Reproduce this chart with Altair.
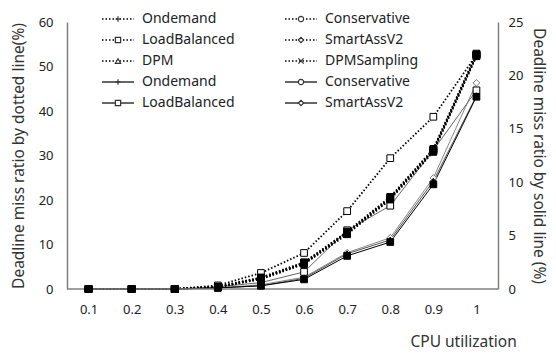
import altair as alt
import pandas as pd

# CPU utilization levels on the x axis
utils = ["0.1", "0.2", "0.3", "0.4", "0.5", "0.6", "0.7", "0.8", "0.9", "1"]

# Deadline miss ratio (%) drawn with dotted lines, left axis
ondemand_dot = [0, 0, 0, 0.5, 2.4, 5.8, 12.6, 20.4, 31.2, 52.6]
conservative_dot = [0, 0, 0, 0.4, 2.2, 5.6, 12.3, 20.1, 30.8, 52.3]
loadbalanced_dot = [0, 0, 0, 0.8, 3.6, 8.1, 17.5, 29.4, 38.7, 52.6]
smartass_dot = [0, 0, 0, 0.5, 2.6, 6.0, 12.9, 20.7, 31.5, 52.9]
dpm_dot = [0, 0, 0, 0.4, 2.3, 5.7, 12.5, 20.3, 31.0, 52.4]
dpmsampling_dot = [0, 0, 0, 0.5, 2.5, 5.9, 12.7, 20.5, 31.3, 52.7]

# Deadline miss ratio (%) drawn with solid lines, right axis
ondemand_sol = [0, 0, 0, 0.1, 0.3, 0.9, 3.1, 4.4, 9.8, 18.0]
conservative_sol = [0, 0, 0, 0.1, 0.3, 1.0, 3.3, 4.6, 10.1, 18.1]
loadbalanced_sol = [0, 0, 0, 0.2, 0.6, 1.6, 5.5, 7.8, 13.0, 18.6]
smartass_sol = [0, 0, 0, 0.1, 0.4, 1.1, 3.4, 4.8, 10.4, 19.3]

# series listed so that open markers are drawn first and filled ones on top
dot_names = ["LoadBalanced", "DPM", "Conservative", "SmartAssV2", "DPMSampling", "Ondemand"]
dot_values = [loadbalanced_dot, dpm_dot, conservative_dot, smartass_dot, dpmsampling_dot, ondemand_dot]
sol_names = ["SmartAssV2", "LoadBalanced", "Conservative", "Ondemand"]
sol_values = [smartass_sol, loadbalanced_sol, conservative_sol, ondemand_sol]


def long_table(names, values):
    rows = []
    for name, vals in zip(names, values):
        for u, v in zip(utils, vals):
            rows.append({"series": name, "util": u, "value": v})
    return pd.DataFrame(rows)


dot_df = long_table(dot_names, dot_values)
sol_df = long_table(sol_names, sol_values)

FONT = "Noto Sans"
AXIS_GREY = "#808080"
PLUS = "M-1,0H1M0,-1V1"
XMARK = "M-1,-1L1,1M-1,1L1,-1"

x_enc = alt.X(
    "util:N",
    sort=utils,
    title="CPU utilization",
    axis=alt.Axis(
        domain=False,
        labelAngle=0,
        labelPadding=14,
        titleX=343,
        titleY=45,
        titleAlign="left",
    ),
)

left_scale = alt.Scale(domain=[0, 60])
right_scale = alt.Scale(domain=[0, 25])

y_left = alt.Y(
    "value:Q",
    scale=left_scale,
    axis=alt.Axis(
        values=[0, 10, 20, 30, 40, 50, 60],
        title="Deadline miss ratio by dotted line(%)",
        orient="left",
        labelPadding=14,
        titlePadding=12,
    ),
)
y_left_plain = alt.Y("value:Q", scale=left_scale, axis=None)

y_right = alt.Y(
    "value:Q",
    scale=right_scale,
    axis=alt.Axis(
        values=[0, 5, 10, 15, 20, 25],
        title="Deadline miss ratio by solid line (%)",
        orient="right",
        labelPadding=10,
        titlePadding=8,
    ),
)
y_right_plain = alt.Y("value:Q", scale=right_scale, axis=None)

one_row = pd.DataFrame({"k": [0]})

# baseline along the bottom of the plot, kept beneath the markers
baseline = alt.Chart(one_row).mark_rule(color=AXIS_GREY, strokeWidth=1.5).encode(
    x=alt.value(0), x2=alt.value(431), y=alt.value(267)
)

# ---- lines ----
dot_lines = alt.Chart(dot_df).mark_line(
    strokeDash=[1.5, 2], strokeWidth=1.8, color="black"
).encode(x=x_enc, y=y_left, detail="series:N")

sol_lines = alt.Chart(sol_df).mark_line(strokeWidth=1).encode(
    x=x_enc,
    y=y_right,
    detail="series:N",
    stroke=alt.Stroke(
        "series:N",
        scale=alt.Scale(domain=sol_names, range=["#888888", "#666666", "#555555", "black"]),
        legend=None,
    ),
)

# ---- markers ----
sol_points = alt.Chart(sol_df).mark_point(
    filled=True, strokeWidth=1, opacity=1
).encode(
    x=x_enc,
    y=y_right_plain,
    shape=alt.Shape(
        "series:N",
        scale=alt.Scale(domain=sol_names, range=["diamond", "square", "triangle-up", "square"]),
        legend=None,
    ),
    fill=alt.Fill(
        "series:N",
        scale=alt.Scale(domain=sol_names, range=["white", "white", "black", "black"]),
        legend=None,
    ),
    stroke=alt.Stroke(
        "series:N",
        scale=alt.Scale(domain=sol_names, range=["#777777", "black", "black", "black"]),
        legend=None,
    ),
    size=alt.value(45),
)

dot_points = alt.Chart(dot_df).mark_point(
    filled=True, stroke="black", strokeWidth=1, opacity=1
).encode(
    x=x_enc,
    y=y_left_plain,
    shape=alt.Shape(
        "series:N",
        scale=alt.Scale(domain=dot_names,
                        range=["square", "triangle-up", "square", "square", "square", "square"]),
        legend=None,
    ),
    fill=alt.Fill(
        "series:N",
        scale=alt.Scale(domain=dot_names,
                        range=["white", "black", "black", "black", "black", "black"]),
        legend=None,
    ),
    size=alt.value(45),
)

# filled Ondemand squares drawn last so they sit on top of everything
top_points = alt.Chart(dot_df).transform_filter(
    alt.datum.series == "Ondemand"
).mark_point(
    shape="square", filled=True, fill="black", stroke="black", strokeWidth=1, size=45, opacity=1
).encode(x=x_enc, y=y_left_plain)

# ---- legend, two columns of five entries ----
legend_entries = [
    ("Ondemand", "dot", PLUS), ("LoadBalanced", "dot", "square"), ("DPM", "dot", "triangle-up"),
    ("Ondemand", "solid", PLUS), ("LoadBalanced", "solid", "square"),
    ("Conservative", "dot", "circle"), ("SmartAssV2", "dot", "diamond"), ("DPMSampling", "dot", XMARK),
    ("Conservative", "solid", "circle"), ("SmartAssV2", "solid", "diamond"),
]
legend_layers = []
for i, (label, style, shape) in enumerate(legend_entries):
    col, row = divmod(i, 5)
    x0 = 35 + col * 183
    yy = -3 + row * 21
    if style == "dot":
        line = alt.Chart(one_row).mark_rule(strokeDash=[1.5, 2], strokeWidth=1.5, color="black")
    else:
        line = alt.Chart(one_row).mark_rule(strokeWidth=1.2, color="black")
    legend_layers.append(line.encode(x=alt.value(x0), x2=alt.value(x0 + 32), y=alt.value(yy)))
    legend_layers.append(
        alt.Chart(one_row).mark_point(
            shape=shape, size=28, filled=True, fill="white", stroke="#333333", strokeWidth=1.2, opacity=1
        ).encode(x=alt.value(x0 + 16), y=alt.value(yy))
    )
    legend_layers.append(
        alt.Chart(one_row).mark_text(
            text=label, align="left", baseline="middle", font=FONT, fontSize=14, color="#222222"
        ).encode(x=alt.value(x0 + 40), y=alt.value(yy))
    )

chart = (
    alt.layer(sol_lines, dot_lines, baseline, sol_points, dot_points, top_points, *legend_layers)
    .resolve_scale(y="independent", shape="independent", fill="independent", stroke="independent")
    .properties(
        width=431,
        height=267,
        autosize=alt.AutoSizeParams(type="none"),
        padding={"left": 67, "top": 22, "right": 58, "bottom": 65},
    )
    .configure_view(stroke=None)
    .configure_axis(
        grid=False,
        ticks=False,
        domainColor=AXIS_GREY,
        domainWidth=1.5,
        labelFont=FONT,
        labelFontSize=13,
        labelColor="#222222",
        titleFont=FONT,
        titleFontSize=15.5,
        titleFontWeight="normal",
        titleColor="#333333",
    )
)

chart.save("out.html", embed_options={"renderer": "svg", "actions": False})
